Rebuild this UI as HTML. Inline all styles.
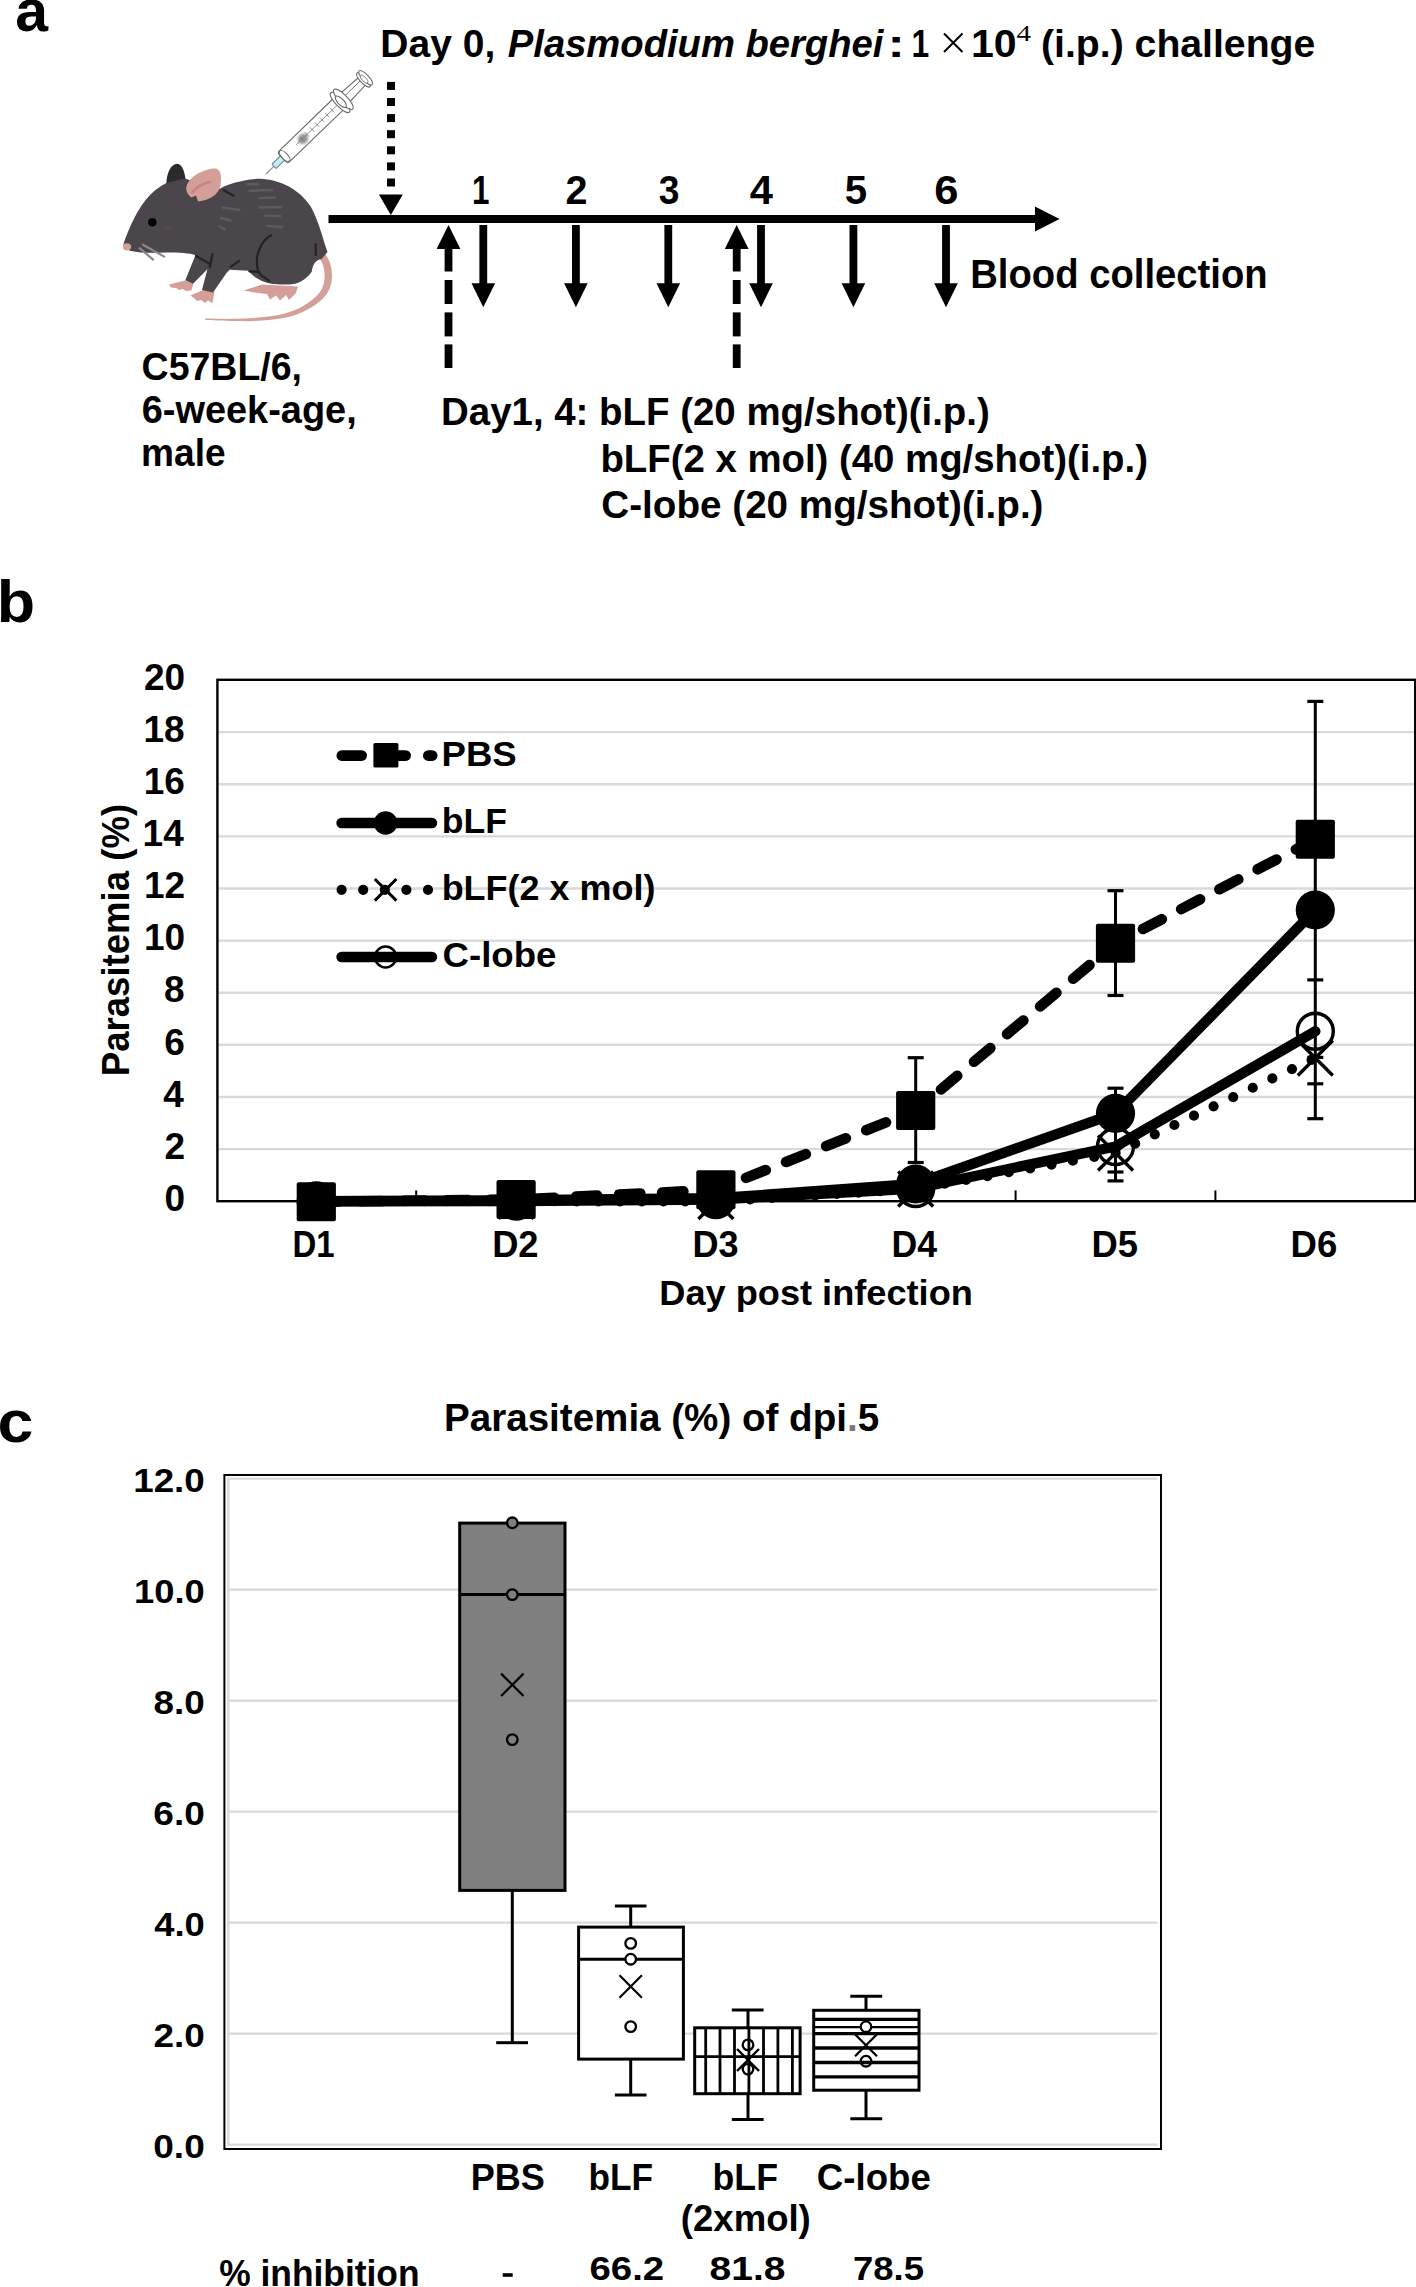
<!DOCTYPE html>
<html><head><meta charset="utf-8"><style>
html,body{margin:0;padding:0;background:#fff;overflow:hidden;width:1416px;height:2287px;}
svg{display:block;}
text{font-family:"Liberation Sans",sans-serif;}
</style></head><body>
<svg width="1416" height="2287" viewBox="0 0 1416 2287">
<defs><filter id="blur1" x="-50%" y="-50%" width="200%" height="200%"><feGaussianBlur stdDeviation="1.3"/></filter></defs>
<rect width="1416" height="2287" fill="#fff"/>
<g transform="translate(266,174) rotate(-44)" stroke="#6a6a6a" stroke-width="1.1" fill="#fff">
<line x1="0" y1="0" x2="12" y2="0" stroke="#8a8a8a" stroke-width="1.1"/>
<rect x="11" y="-3" width="13" height="6" rx="1" fill="#c3eaf0" stroke="#6a8a90"/>
<rect x="23" y="-7.5" width="82" height="15" rx="3" fill="#fff"/>
<ellipse cx="26" cy="0" rx="3" ry="7" fill="#fff"/>
<ellipse cx="51" cy="0.5" rx="5.5" ry="5" fill="#8c8c8c" stroke="none" opacity="0.9" filter="url(#blur1)"/>
<line x1="42" y1="0" x2="98" y2="0" stroke="#777" stroke-width="0.8"/>
<line x1="50" y1="-3" x2="50" y2="3" stroke="#777" stroke-width="0.8"/>
<line x1="57" y1="-3" x2="57" y2="3" stroke="#777" stroke-width="0.8"/>
<line x1="64" y1="-3" x2="64" y2="3" stroke="#777" stroke-width="0.8"/>
<line x1="71" y1="-3" x2="71" y2="3" stroke="#777" stroke-width="0.8"/>
<line x1="78" y1="-3" x2="78" y2="3" stroke="#777" stroke-width="0.8"/>
<line x1="85" y1="-3" x2="85" y2="3" stroke="#777" stroke-width="0.8"/>
<line x1="92" y1="-3" x2="92" y2="3" stroke="#777" stroke-width="0.8"/>
<line x1="99" y1="-3" x2="99" y2="3" stroke="#777" stroke-width="0.8"/>
<path d="M108,-6.5 L135,-5 L135,5 L108,6.5 Z" fill="#fff"/>
<line x1="112" y1="-1.5" x2="133" y2="-1.5" stroke-width="0.9"/>
<path d="M103,-13.5 L107.5,-13.5 L107.5,13.5 L103,13.5 Z" fill="#fff" stroke="none"/>
<ellipse cx="103" cy="0" rx="4.3" ry="13.5" fill="#fff"/>
<ellipse cx="107.5" cy="0" rx="4.3" ry="13.5" fill="#fff"/>
<ellipse cx="104" cy="0" rx="3" ry="7.5" fill="#fff"/>
<ellipse cx="135.5" cy="0" rx="3.2" ry="9.5" fill="#fff"/>
<ellipse cx="138.5" cy="0" rx="3.2" ry="9.5" fill="#fff"/>
<ellipse cx="136.5" cy="0" rx="2" ry="5" fill="#fff" stroke-width="0.8"/>
</g>
<path d="M322,250 C334,262 335,283 326,295 C317,306 302,314 285,317.8 C268,321 250,321.5 235,321 C222,320.7 212,320.3 205,320 L205.5,318.6 C214,318.8 224,319 235,318.8 C250,318.5 267,317.5 283,314 C299,310 312,302 320,292 C327,282 326,266 318,256 Z" fill="#d49f99"/>
<path d="M166.3,184 C166.5,173 171,164 177.3,163.8 C182.5,164.5 184.5,172 185.5,179 Z" fill="#2b2a2e"/>
<path d="M169,284.6 L185,280.5 L193.5,283.5 L191.3,290.5 L186,291 L183,289 L179,290 L176,288 L171,287.5 Z" fill="#d49f99"/>
<path d="M190.4,295.6 L203,290 L214.5,291.5 L212.5,303.2 L208,300.5 L205,303 L201,300 L197,301 L194,298 Z" fill="#d49f99"/>
<path d="M243.5,290.6 L262,284.5 L297.9,286.5 L296,293 L289,300 L286,295 L280,300.5 L276,295.5 L270,299.5 L267,294 L258,293 L252,292 Z" fill="#d49f99"/>
<path d="M123.5,244 C128,230 138,207 150,195 C156,189 161,186 166.3,183 L185,178.5 C200,184 212,188 219.8,188.7 C226,185 232,183.3 240,181.5 C248,179.5 254,178.8 260,178.8 C280,179.5 299,189 310.7,206.5 C318,219 322,236 327.5,252 L321.6,259 C316,260 313,263 311.7,271.8 C306,280 297,284.6 289,284.6 C278,284.6 268,284 261.3,280.7 C255,278 251,274 248.4,270.8 L229.7,269.8 L226.7,272.8 L213,292.5 L202,290 L207.4,269.3 L193,283.7 L185.3,280.3 L195.5,255 C190,253 180,252.4 166,252.4 C152,253 141,253.2 130.3,250.7 C126,249.5 123,247 123.5,244 Z" fill="#4b464b"/>
<path d="M186.2,188 C188,178 200,170 214,168.5 C221,168 222,176 220.5,186 C218,195 210,200 198,201.5 L196,195.5 L191.5,197.5 C188,195 186,192 186.2,188 Z" fill="#d49f99"/>
<path d="M192,192.5 C197,186.5 203,183.5 210,182" stroke="#c98480" stroke-width="2.6" fill="none" stroke-linecap="round"/>
<circle cx="152.3" cy="222.3" r="4.3" fill="#000"/>
<ellipse cx="168.4" cy="228.6" rx="4" ry="3" fill="#5a4a4c" opacity="0.6"/>
<ellipse cx="127" cy="246.8" rx="4.2" ry="3.6" fill="#d49f99"/>
<path d="M143,244.7 L164.2,256.6 M139.6,248.1 L153.1,259.6" stroke="#8a878b" stroke-width="2.2" fill="none" stroke-linecap="round"/>
<path d="M271.2,235.2 C264,239 258,248 256.9,258.9 C256.5,266 258,273 262,276 L269.2,280.7 M249.4,271.3 L259.3,271.8 M230.6,266.8 L239,260.9 M315.7,244.1 L315.7,255 M223.7,190.2 L233.6,195.7 M196,256 L209.9,263.9 M212.4,254 L209.9,266.8" stroke="#232226" stroke-width="2.2" fill="none" stroke-linecap="round"/>
<path d="M247.5,184.3 L258.3,184.3 M249.4,190.7 L272.2,190 M259.3,198 L275.1,197.5 M259.3,207.5 L281.1,207 M265.3,215.7 L280.1,216 M267.2,226 L282.1,227 M222.7,207.5 L239.5,210 M220.8,218 L230.6,220.5 M219.8,226.5 L224.7,229.5" stroke="#5d5a60" stroke-width="2.4" fill="none" stroke-linecap="round"/>
<text x="15.13" y="31.30" font-size="59" font-weight="bold" textLength="32.80" lengthAdjust="spacingAndGlyphs" fill="#000" >a</text>
<text x="-3.28" y="622.00" font-size="59.5" font-weight="bold" textLength="38.35" lengthAdjust="spacingAndGlyphs" fill="#000" >b</text>
<text x="-2.58" y="1442.00" font-size="59" font-weight="bold" textLength="35.82" lengthAdjust="spacingAndGlyphs" fill="#000" >c</text>
<text x="380.37" y="57.10" font-size="39.5" font-weight="bold" textLength="114.92" lengthAdjust="spacingAndGlyphs" fill="#000" >Day 0,</text>
<text x="507.83" y="57.10" font-size="39.5" font-weight="bold" font-style="italic" textLength="375.53" lengthAdjust="spacingAndGlyphs" fill="#000" >Plasmodium berghei</text>
<text x="887.47" y="57.10" font-size="39.5" font-weight="bold" textLength="17.29" lengthAdjust="spacingAndGlyphs" fill="#000" >:</text>
<text x="911.61" y="57.10" font-size="39.5" font-weight="bold" textLength="17.70" lengthAdjust="spacingAndGlyphs" fill="#000" >1</text>
<path d="M944,33.5 L962.5,52 M962.5,33.5 L944,52" stroke="#000" stroke-width="2" fill="none"/>
<text x="971.03" y="57.10" font-size="39.5" font-weight="bold" textLength="45.71" lengthAdjust="spacingAndGlyphs" fill="#000" >10</text>
<text x="1016.42" y="41.20" font-size="24" style="font-family:'Liberation Serif',serif" textLength="14.52" lengthAdjust="spacingAndGlyphs" fill="#000" >4</text>
<text x="1041.04" y="57.10" font-size="39.5" font-weight="bold" textLength="274.28" lengthAdjust="spacingAndGlyphs" fill="#000" >(i.p.) challenge</text>
<rect x="328.5" y="215" width="708" height="8" fill="#000"/>
<polygon points="1035,206.5 1059.5,219 1035,231.5" fill="#000"/>
<rect x="387" y="81.9" width="8" height="8" fill="#000"/>
<rect x="387" y="98.0" width="8" height="8" fill="#000"/>
<rect x="387" y="114.1" width="8" height="8" fill="#000"/>
<rect x="387" y="130.2" width="8" height="8" fill="#000"/>
<rect x="387" y="146.3" width="8" height="8" fill="#000"/>
<rect x="387" y="162.4" width="8" height="8" fill="#000"/>
<rect x="387" y="178.5" width="8" height="8" fill="#000"/>
<polygon points="378.9,194.5 402.8,194.5 390.85,215" fill="#000"/>
<rect x="479.4" y="225" width="7.8" height="60" fill="#000"/>
<polygon points="471.5,283.3 495.1,283.3 483.3,307.3" fill="#000"/>
<rect x="572.0" y="225" width="7.8" height="60" fill="#000"/>
<polygon points="564.1,283.3 587.7,283.3 575.9,307.3" fill="#000"/>
<rect x="664.4" y="225" width="7.8" height="60" fill="#000"/>
<polygon points="656.5,283.3 680.1,283.3 668.3,307.3" fill="#000"/>
<rect x="757.1" y="225" width="7.8" height="60" fill="#000"/>
<polygon points="749.2,283.3 772.8,283.3 761.0,307.3" fill="#000"/>
<rect x="849.5" y="225" width="7.8" height="60" fill="#000"/>
<polygon points="841.6,283.3 865.2,283.3 853.4,307.3" fill="#000"/>
<rect x="942.1" y="225" width="7.8" height="60" fill="#000"/>
<polygon points="934.2,283.3 957.8,283.3 946.0,307.3" fill="#000"/>
<polygon points="436.6,249 460.4,249 448.5,225" fill="#000"/>
<rect x="444.6" y="248.9" width="7.8" height="22.6" fill="#000"/>
<rect x="444.6" y="280" width="7.8" height="24.0" fill="#000"/>
<rect x="444.6" y="312.4" width="7.8" height="24.0" fill="#000"/>
<rect x="444.6" y="344.4" width="7.8" height="23.6" fill="#000"/>
<polygon points="724.8,249 748.6,249 736.7,225" fill="#000"/>
<rect x="732.8" y="248.9" width="7.8" height="22.6" fill="#000"/>
<rect x="732.8" y="280" width="7.8" height="24.0" fill="#000"/>
<rect x="732.8" y="312.4" width="7.8" height="24.0" fill="#000"/>
<rect x="732.8" y="344.4" width="7.8" height="23.6" fill="#000"/>
<text x="472.04" y="204.30" font-size="41" font-weight="bold" textLength="17.46" lengthAdjust="spacingAndGlyphs" fill="#000" >1</text>
<text x="565.61" y="204.30" font-size="41" font-weight="bold" textLength="22.02" lengthAdjust="spacingAndGlyphs" fill="#000" >2</text>
<text x="658.66" y="204.30" font-size="41" font-weight="bold" textLength="20.68" lengthAdjust="spacingAndGlyphs" fill="#000" >3</text>
<text x="749.67" y="204.30" font-size="41" font-weight="bold" textLength="23.18" lengthAdjust="spacingAndGlyphs" fill="#000" >4</text>
<text x="844.79" y="204.30" font-size="41" font-weight="bold" textLength="22.36" lengthAdjust="spacingAndGlyphs" fill="#000" >5</text>
<text x="934.37" y="204.30" font-size="41" font-weight="bold" textLength="24.21" lengthAdjust="spacingAndGlyphs" fill="#000" >6</text>
<text x="970.22" y="287.80" font-size="41" font-weight="bold" textLength="297.50" lengthAdjust="spacingAndGlyphs" fill="#000" >Blood collection</text>
<text x="141.60" y="379.80" font-size="38" font-weight="bold" textLength="160.41" lengthAdjust="spacingAndGlyphs" fill="#000" >C57BL/6,</text>
<text x="141.68" y="423.00" font-size="38" font-weight="bold" textLength="215.07" lengthAdjust="spacingAndGlyphs" fill="#000" >6-week-age,</text>
<text x="141.09" y="466.00" font-size="38" font-weight="bold" textLength="84.48" lengthAdjust="spacingAndGlyphs" fill="#000" >male</text>
<text x="441.01" y="425.20" font-size="39" font-weight="bold" textLength="548.79" lengthAdjust="spacingAndGlyphs" fill="#000" >Day1, 4: bLF (20 mg/shot)(i.p.)</text>
<text x="600.41" y="471.80" font-size="39" font-weight="bold" textLength="547.52" lengthAdjust="spacingAndGlyphs" fill="#000" >bLF(2 x mol) (40 mg/shot)(i.p.)</text>
<text x="601.35" y="517.90" font-size="39" font-weight="bold" textLength="442.14" lengthAdjust="spacingAndGlyphs" fill="#000" >C-lobe (20 mg/shot)(i.p.)</text>
<line x1="218.2" y1="1149.1" x2="1413.8" y2="1149.1" stroke="#d9d9d9" stroke-width="2.4"/>
<line x1="218.2" y1="1097.0" x2="1413.8" y2="1097.0" stroke="#d9d9d9" stroke-width="2.4"/>
<line x1="218.2" y1="1044.8" x2="1413.8" y2="1044.8" stroke="#d9d9d9" stroke-width="2.4"/>
<line x1="218.2" y1="992.7" x2="1413.8" y2="992.7" stroke="#d9d9d9" stroke-width="2.4"/>
<line x1="218.2" y1="940.6" x2="1413.8" y2="940.6" stroke="#d9d9d9" stroke-width="2.4"/>
<line x1="218.2" y1="888.5" x2="1413.8" y2="888.5" stroke="#d9d9d9" stroke-width="2.4"/>
<line x1="218.2" y1="836.4" x2="1413.8" y2="836.4" stroke="#d9d9d9" stroke-width="2.4"/>
<line x1="218.2" y1="784.2" x2="1413.8" y2="784.2" stroke="#d9d9d9" stroke-width="2.4"/>
<line x1="218.2" y1="732.1" x2="1413.8" y2="732.1" stroke="#d9d9d9" stroke-width="2.4"/>
<rect x="217.4" y="679.8" width="1197.8" height="521.4" fill="none" stroke="#000" stroke-width="2.4"/>
<line x1="416.2" y1="1190.4" x2="416.2" y2="1201" stroke="#000" stroke-width="2"/>
<line x1="616.0" y1="1190.4" x2="616.0" y2="1201" stroke="#000" stroke-width="2"/>
<line x1="815.8" y1="1190.4" x2="815.8" y2="1201" stroke="#000" stroke-width="2"/>
<line x1="1015.6" y1="1190.4" x2="1015.6" y2="1201" stroke="#000" stroke-width="2"/>
<line x1="1215.4" y1="1190.4" x2="1215.4" y2="1201" stroke="#000" stroke-width="2"/>
<text x="164.45" y="1210.90" font-size="37" font-weight="bold" textLength="20.58" lengthAdjust="spacingAndGlyphs" fill="#000" >0</text>
<text x="164.45" y="1158.78" font-size="37" font-weight="bold" textLength="20.58" lengthAdjust="spacingAndGlyphs" fill="#000" >2</text>
<text x="163.15" y="1106.66" font-size="37" font-weight="bold" textLength="20.58" lengthAdjust="spacingAndGlyphs" fill="#000" >4</text>
<text x="164.26" y="1054.54" font-size="37" font-weight="bold" textLength="20.58" lengthAdjust="spacingAndGlyphs" fill="#000" >6</text>
<text x="164.08" y="1002.42" font-size="37" font-weight="bold" textLength="20.58" lengthAdjust="spacingAndGlyphs" fill="#000" >8</text>
<text x="143.91" y="950.30" font-size="37" font-weight="bold" textLength="41.16" lengthAdjust="spacingAndGlyphs" fill="#000" >10</text>
<text x="143.91" y="898.18" font-size="37" font-weight="bold" textLength="41.16" lengthAdjust="spacingAndGlyphs" fill="#000" >12</text>
<text x="142.62" y="846.06" font-size="37" font-weight="bold" textLength="41.16" lengthAdjust="spacingAndGlyphs" fill="#000" >14</text>
<text x="143.72" y="793.94" font-size="37" font-weight="bold" textLength="41.16" lengthAdjust="spacingAndGlyphs" fill="#000" >16</text>
<text x="143.54" y="741.82" font-size="37" font-weight="bold" textLength="41.16" lengthAdjust="spacingAndGlyphs" fill="#000" >18</text>
<text x="143.91" y="689.70" font-size="37" font-weight="bold" textLength="41.16" lengthAdjust="spacingAndGlyphs" fill="#000" >20</text>
<g transform="translate(128.7,1073.8) rotate(-90)"><text x="-2.47" y="0.00" font-size="39" font-weight="bold" textLength="272.41" lengthAdjust="spacingAndGlyphs" fill="#000" >Parasitemia (%)</text></g>
<text x="292.57" y="1257.00" font-size="37" font-weight="bold" textLength="42.16" lengthAdjust="spacingAndGlyphs" fill="#000" >D1</text>
<text x="492.15" y="1257.00" font-size="37" font-weight="bold" textLength="46.44" lengthAdjust="spacingAndGlyphs" fill="#000" >D2</text>
<text x="692.46" y="1257.00" font-size="37" font-weight="bold" textLength="46.13" lengthAdjust="spacingAndGlyphs" fill="#000" >D3</text>
<text x="891.59" y="1257.00" font-size="37" font-weight="bold" textLength="45.62" lengthAdjust="spacingAndGlyphs" fill="#000" >D4</text>
<text x="1091.55" y="1257.00" font-size="37" font-weight="bold" textLength="46.49" lengthAdjust="spacingAndGlyphs" fill="#000" >D5</text>
<text x="1290.53" y="1257.00" font-size="37" font-weight="bold" textLength="46.78" lengthAdjust="spacingAndGlyphs" fill="#000" >D6</text>
<text x="659.26" y="1305.30" font-size="35.5" font-weight="bold" textLength="313.62" lengthAdjust="spacingAndGlyphs" fill="#000" >Day post infection</text>
<g fill="#000" stroke="#000">
<line x1="341.8" y1="755.6" x2="361.7" y2="755.6" stroke-width="10.6" stroke-linecap="round"/>
<rect x="373.4" y="742.9" width="25" height="24.6" rx="1.5" stroke="none"/>
<line x1="398" y1="755.6" x2="405.7" y2="755.6" stroke-width="10.6" stroke-linecap="round"/>
<line x1="428.3" y1="755.6" x2="432.2" y2="755.6" stroke-width="10.6" stroke-linecap="round"/>
<line x1="341.5" y1="823" x2="432" y2="823" stroke-width="10.4" stroke-linecap="round"/>
<circle cx="385.6" cy="823" r="11.8" stroke="none"/>
<circle cx="341.6" cy="889.8" r="5.1" stroke="none"/>
<circle cx="363.2" cy="889.8" r="5.1" stroke="none"/>
<circle cx="384.8" cy="889.8" r="5.1" stroke="none"/>
<circle cx="406.4" cy="889.8" r="5.1" stroke="none"/>
<circle cx="428" cy="889.8" r="5.1" stroke="none"/>
<path d="M374.8,879 L396.4,900.6 M396.4,879 L374.8,900.6" stroke-width="3" fill="none"/>
<line x1="341.5" y1="957" x2="432" y2="957" stroke-width="10.4" stroke-linecap="round"/>
<circle cx="385.6" cy="957" r="10.5" fill="none" stroke-width="2.6"/>
</g>
<text x="441.53" y="765.80" font-size="35" font-weight="bold" textLength="75.18" lengthAdjust="spacingAndGlyphs" fill="#000" >PBS</text>
<text x="441.69" y="832.60" font-size="35" font-weight="bold" textLength="65.16" lengthAdjust="spacingAndGlyphs" fill="#000" >bLF</text>
<text x="441.66" y="900.00" font-size="35" font-weight="bold" textLength="213.72" lengthAdjust="spacingAndGlyphs" fill="#000" >bLF(2 x mol)</text>
<text x="442.54" y="967.10" font-size="35" font-weight="bold" textLength="113.89" lengthAdjust="spacingAndGlyphs" fill="#000" >C-lobe</text>
<polyline points="316.3,1201.2 516.1,1201.2 715.9,1201.5 915.7,1189.0 1115.5,1153.0 1315.3,1058.0" fill="none" stroke="#000" stroke-width="10.2" stroke-linecap="round" stroke-dasharray="0 21.7"/>
<polyline points="316.3,1201.2 516.1,1201.0 715.9,1199.5 915.7,1188.5 1115.5,1146.5 1315.3,1031.3" fill="none" stroke="#000" stroke-width="10.4" stroke-linecap="round" stroke-linejoin="round"/>
<polyline points="316.3,1201.2 516.1,1200.3 715.9,1198.3 915.7,1184.0 1115.5,1113.4 1315.3,910.0" fill="none" stroke="#000" stroke-width="10.4" stroke-linecap="round" stroke-linejoin="round"/>
<polyline points="316.3,1201.7 516.1,1199.6 715.9,1189.8 915.7,1110.6 1115.5,943.3 1315.3,839.3" fill="none" stroke="#000" stroke-width="10.6" stroke-linecap="round" stroke-dasharray="21.3 21.8" stroke-dashoffset="41.9"/>
<line x1="915.7" y1="1057.7" x2="915.7" y2="1162.5" stroke="#000" stroke-width="3"/><line x1="907.7" y1="1057.7" x2="923.7" y2="1057.7" stroke="#000" stroke-width="3.2"/><line x1="907.7" y1="1162.5" x2="923.7" y2="1162.5" stroke="#000" stroke-width="3.2"/>
<line x1="1115.5" y1="890.7" x2="1115.5" y2="995.5" stroke="#000" stroke-width="3"/><line x1="1107.5" y1="890.7" x2="1123.5" y2="890.7" stroke="#000" stroke-width="3.2"/><line x1="1107.5" y1="995.5" x2="1123.5" y2="995.5" stroke="#000" stroke-width="3.2"/>
<line x1="1115.5" y1="1088.2" x2="1115.5" y2="1180.9" stroke="#000" stroke-width="3"/><line x1="1107.5" y1="1088.2" x2="1123.5" y2="1088.2" stroke="#000" stroke-width="3.2"/><line x1="1107.5" y1="1172" x2="1123.5" y2="1172" stroke="#000" stroke-width="3.2"/><line x1="1107.5" y1="1180.9" x2="1123.5" y2="1180.9" stroke="#000" stroke-width="3.2"/>
<line x1="1315.3" y1="701.4" x2="1315.3" y2="1118.7" stroke="#000" stroke-width="3"/><line x1="1307.3" y1="701.4" x2="1323.3" y2="701.4" stroke="#000" stroke-width="3.2"/><line x1="1307.3" y1="979.9" x2="1323.3" y2="979.9" stroke="#000" stroke-width="3.2"/><line x1="1307.3" y1="1057.4" x2="1323.3" y2="1057.4" stroke="#000" stroke-width="3.2"/><line x1="1307.3" y1="1083.8" x2="1323.3" y2="1083.8" stroke="#000" stroke-width="3.2"/><line x1="1307.3" y1="1118.7" x2="1323.3" y2="1118.7" stroke="#000" stroke-width="3.2"/>
<path d="M298.8,1183.7 L333.8,1218.7 M333.8,1183.7 L298.8,1218.7" stroke="#000" stroke-width="3.4" fill="none"/>
<path d="M498.6,1183.7 L533.6,1218.7 M533.6,1183.7 L498.6,1218.7" stroke="#000" stroke-width="3.4" fill="none"/>
<path d="M698.4,1184.0 L733.4,1219.0 M733.4,1184.0 L698.4,1219.0" stroke="#000" stroke-width="3.4" fill="none"/>
<path d="M898.2,1171.5 L933.2,1206.5 M933.2,1171.5 L898.2,1206.5" stroke="#000" stroke-width="3.4" fill="none"/>
<path d="M1098.0,1135.5 L1133.0,1170.5 M1133.0,1135.5 L1098.0,1170.5" stroke="#000" stroke-width="3.4" fill="none"/>
<path d="M1297.8,1040.5 L1332.8,1075.5 M1332.8,1040.5 L1297.8,1075.5" stroke="#000" stroke-width="3.4" fill="none"/>
<circle cx="316.3" cy="1201.2" r="18" fill="none" stroke="#000" stroke-width="3.4"/>
<circle cx="516.1" cy="1201.0" r="18" fill="none" stroke="#000" stroke-width="3.4"/>
<circle cx="715.9" cy="1199.5" r="18" fill="none" stroke="#000" stroke-width="3.4"/>
<circle cx="915.7" cy="1188.5" r="18" fill="none" stroke="#000" stroke-width="3.4"/>
<circle cx="1115.5" cy="1146.5" r="18" fill="none" stroke="#000" stroke-width="3.4"/>
<circle cx="1315.3" cy="1031.3" r="18" fill="none" stroke="#000" stroke-width="3.4"/>
<circle cx="316.3" cy="1201.2" r="19.6" fill="#000"/>
<circle cx="516.1" cy="1200.3" r="19.6" fill="#000"/>
<circle cx="715.9" cy="1198.3" r="19.6" fill="#000"/>
<circle cx="915.7" cy="1184.0" r="19.6" fill="#000"/>
<circle cx="1115.5" cy="1113.4" r="19.6" fill="#000"/>
<circle cx="1315.3" cy="910.0" r="19.6" fill="#000"/>
<rect x="296.7" y="1182.2" width="39.2" height="39" rx="2" fill="#000"/>
<rect x="496.5" y="1180.1" width="39.2" height="39" rx="2" fill="#000"/>
<rect x="696.3" y="1170.3" width="39.2" height="39" rx="2" fill="#000"/>
<rect x="896.1" y="1091.1" width="39.2" height="39" rx="2" fill="#000"/>
<rect x="1095.9" y="923.8" width="39.2" height="39" rx="2" fill="#000"/>
<rect x="1295.7" y="819.8" width="39.2" height="39" rx="2" fill="#000"/>
<line x1="228" y1="2033.6" x2="1157.5" y2="2033.6" stroke="#d9d9d9" stroke-width="2.3"/>
<line x1="228" y1="1922.6" x2="1157.5" y2="1922.6" stroke="#d9d9d9" stroke-width="2.3"/>
<line x1="228" y1="1811.6" x2="1157.5" y2="1811.6" stroke="#d9d9d9" stroke-width="2.3"/>
<line x1="228" y1="1700.6" x2="1157.5" y2="1700.6" stroke="#d9d9d9" stroke-width="2.3"/>
<line x1="228" y1="1589.6" x2="1157.5" y2="1589.6" stroke="#d9d9d9" stroke-width="2.3"/>
<line x1="228" y1="1478.6" x2="1157.5" y2="1478.6" stroke="#d9d9d9" stroke-width="2.3"/>
<line x1="228.3" y1="1477.5" x2="228.3" y2="2145.7" stroke="#d9d9d9" stroke-width="2.3"/>
<line x1="227.2" y1="2144.6" x2="1157.5" y2="2144.6" stroke="#d9d9d9" stroke-width="2.3"/>
<rect x="224.4" y="1475" width="936.6" height="674" fill="none" stroke="#000" stroke-width="2"/>
<text x="153.22" y="2158.10" font-size="34" font-weight="bold" textLength="51.58" lengthAdjust="spacingAndGlyphs" fill="#000" >0.0</text>
<text x="153.41" y="2047.10" font-size="34" font-weight="bold" textLength="51.38" lengthAdjust="spacingAndGlyphs" fill="#000" >2.0</text>
<text x="154.15" y="1936.10" font-size="34" font-weight="bold" textLength="50.61" lengthAdjust="spacingAndGlyphs" fill="#000" >4.0</text>
<text x="153.31" y="1825.10" font-size="34" font-weight="bold" textLength="51.48" lengthAdjust="spacingAndGlyphs" fill="#000" >6.0</text>
<text x="153.50" y="1714.10" font-size="34" font-weight="bold" textLength="51.28" lengthAdjust="spacingAndGlyphs" fill="#000" >8.0</text>
<text x="134.03" y="1603.10" font-size="34" font-weight="bold" textLength="70.78" lengthAdjust="spacingAndGlyphs" fill="#000" >10.0</text>
<text x="133.20" y="1492.10" font-size="34" font-weight="bold" textLength="71.62" lengthAdjust="spacingAndGlyphs" fill="#000" >12.0</text>
<text x="444.00" y="1430.50" font-size="39.5" font-weight="bold" textLength="435.11" lengthAdjust="spacingAndGlyphs" fill="#000" >Parasitemia (%) of dpi<tspan fill="#777">.</tspan>5</text>
<text x="470.77" y="2190.30" font-size="37" font-weight="bold" textLength="74.13" lengthAdjust="spacingAndGlyphs" fill="#000" >PBS</text>
<text x="588.61" y="2190.30" font-size="37" font-weight="bold" textLength="64.52" lengthAdjust="spacingAndGlyphs" fill="#000" >bLF</text>
<text x="712.58" y="2190.30" font-size="37" font-weight="bold" textLength="65.37" lengthAdjust="spacingAndGlyphs" fill="#000" >bLF</text>
<text x="816.83" y="2190.30" font-size="37" font-weight="bold" textLength="113.99" lengthAdjust="spacingAndGlyphs" fill="#000" >C-lobe</text>
<text x="680.87" y="2230.50" font-size="37" font-weight="bold" textLength="129.90" lengthAdjust="spacingAndGlyphs" fill="#000" >(2xmol)</text>
<text x="219.22" y="2285.50" font-size="36" font-weight="bold" textLength="200.33" lengthAdjust="spacingAndGlyphs" fill="#000" >% inhibition</text>
<rect x="502.7" y="2273.2" width="10" height="3.6" fill="#000"/>
<text x="589.46" y="2279.60" font-size="34" font-weight="bold" textLength="74.73" lengthAdjust="spacingAndGlyphs" fill="#000" >66.2</text>
<text x="709.63" y="2279.60" font-size="34" font-weight="bold" textLength="75.79" lengthAdjust="spacingAndGlyphs" fill="#000" >81.8</text>
<text x="852.95" y="2279.60" font-size="34" font-weight="bold" textLength="71.00" lengthAdjust="spacingAndGlyphs" fill="#000" >78.5</text>
<line x1="512.3" y1="1890.4" x2="512.3" y2="2042.7" stroke="#000" stroke-width="3"/>
<line x1="496.2" y1="2042.7" x2="528" y2="2042.7" stroke="#000" stroke-width="3"/>
<rect x="459.7" y="1523.1" width="105.3" height="367.3" fill="#7f7f7f" stroke="#000" stroke-width="3"/>
<line x1="459.7" y1="1594.6" x2="565" y2="1594.6" stroke="#000" stroke-width="3"/>
<path d="M501.1,1673.6 L523.5,1696.0 M523.5,1673.6 L501.1,1696.0" stroke="#000" stroke-width="2.2" fill="none"/>
<circle cx="512.3" cy="1522.8" r="5.3" fill="#7f7f7f" stroke="#000" stroke-width="2.3"/>
<circle cx="512.3" cy="1594.6" r="5.3" fill="#7f7f7f" stroke="#000" stroke-width="2.3"/>
<circle cx="512.3" cy="1739.6" r="5.3" fill="#7f7f7f" stroke="#000" stroke-width="2.3"/>
<line x1="630.7" y1="1905.9" x2="630.7" y2="2094.9" stroke="#000" stroke-width="3"/>
<line x1="614.9" y1="1905.9" x2="646.5" y2="1905.9" stroke="#000" stroke-width="3"/>
<line x1="614.9" y1="2094.9" x2="646.5" y2="2094.9" stroke="#000" stroke-width="3"/>
<rect x="578.6" y="1927.1" width="104.8" height="132" fill="#fff" stroke="#000" stroke-width="3"/>
<line x1="578.6" y1="1959.2" x2="683.4" y2="1959.2" stroke="#000" stroke-width="3"/>
<path d="M619.5,1975.3 L641.9,1997.7 M641.9,1975.3 L619.5,1997.7" stroke="#000" stroke-width="2.2" fill="none"/>
<circle cx="630.7" cy="1943.4" r="5.3" fill="#fff" stroke="#000" stroke-width="2.3"/>
<circle cx="630.7" cy="1959.2" r="5.3" fill="#fff" stroke="#000" stroke-width="2.3"/>
<circle cx="630.7" cy="2026.6" r="5.3" fill="#fff" stroke="#000" stroke-width="2.3"/>
<line x1="748" y1="2010" x2="748" y2="2119.6" stroke="#000" stroke-width="3"/>
<line x1="731.8" y1="2010" x2="763.6" y2="2010" stroke="#000" stroke-width="3"/>
<line x1="731.8" y1="2119.6" x2="763.6" y2="2119.6" stroke="#000" stroke-width="3"/>
<rect x="694.7" y="2027.8" width="105.4" height="65.9" fill="#fff" stroke="#000" stroke-width="3"/>
<line x1="705.7" y1="2027.8" x2="705.7" y2="2093.7" stroke="#000" stroke-width="2.8"/>
<line x1="720" y1="2027.8" x2="720" y2="2093.7" stroke="#000" stroke-width="2.8"/>
<line x1="734.5" y1="2027.8" x2="734.5" y2="2093.7" stroke="#000" stroke-width="2.8"/>
<line x1="748.9" y1="2027.8" x2="748.9" y2="2093.7" stroke="#000" stroke-width="2.8"/>
<line x1="763.5" y1="2027.8" x2="763.5" y2="2093.7" stroke="#000" stroke-width="2.8"/>
<line x1="777.9" y1="2027.8" x2="777.9" y2="2093.7" stroke="#000" stroke-width="2.8"/>
<line x1="792.4" y1="2027.8" x2="792.4" y2="2093.7" stroke="#000" stroke-width="2.8"/>
<line x1="694.7" y1="2056.6" x2="800.1" y2="2056.6" stroke="#000" stroke-width="2.6"/>
<circle cx="748" cy="2044.9" r="5.3" fill="none" stroke="#000" stroke-width="2.3"/>
<circle cx="748" cy="2069.1" r="5.3" fill="none" stroke="#000" stroke-width="2.3"/>
<path d="M737.0,2049.0 L759.0,2071.0 M759.0,2049.0 L737.0,2071.0" stroke="#000" stroke-width="2.4" fill="none"/>
<line x1="866" y1="1996.2" x2="866" y2="2118.7" stroke="#000" stroke-width="3"/>
<line x1="850.3" y1="1996.2" x2="882.2" y2="1996.2" stroke="#000" stroke-width="3"/>
<line x1="850.3" y1="2118.7" x2="882.2" y2="2118.7" stroke="#000" stroke-width="3"/>
<rect x="813.7" y="2010.3" width="105.3" height="79.9" fill="#fff" stroke="#000" stroke-width="3"/>
<line x1="813.7" y1="2019.4" x2="919" y2="2019.4" stroke="#000" stroke-width="3.3"/>
<line x1="813.7" y1="2033.6" x2="919" y2="2033.6" stroke="#000" stroke-width="3.3"/>
<line x1="813.7" y1="2048" x2="919" y2="2048" stroke="#000" stroke-width="3.3"/>
<line x1="813.7" y1="2062.5" x2="919" y2="2062.5" stroke="#000" stroke-width="3.3"/>
<line x1="813.7" y1="2076.8" x2="919" y2="2076.8" stroke="#000" stroke-width="3.3"/>
<line x1="813.7" y1="2027.2" x2="919" y2="2027.2" stroke="#000" stroke-width="2.3"/>
<circle cx="866" cy="2026.7" r="5.3" fill="#fff" stroke="#000" stroke-width="2.3"/>
<circle cx="866" cy="2061.2" r="5.3" fill="none" stroke="#000" stroke-width="2.3"/>
<path d="M855.0,2034.2 L877.0,2056.2 M877.0,2034.2 L855.0,2056.2" stroke="#000" stroke-width="2.3" fill="none"/>
</svg></body></html>
